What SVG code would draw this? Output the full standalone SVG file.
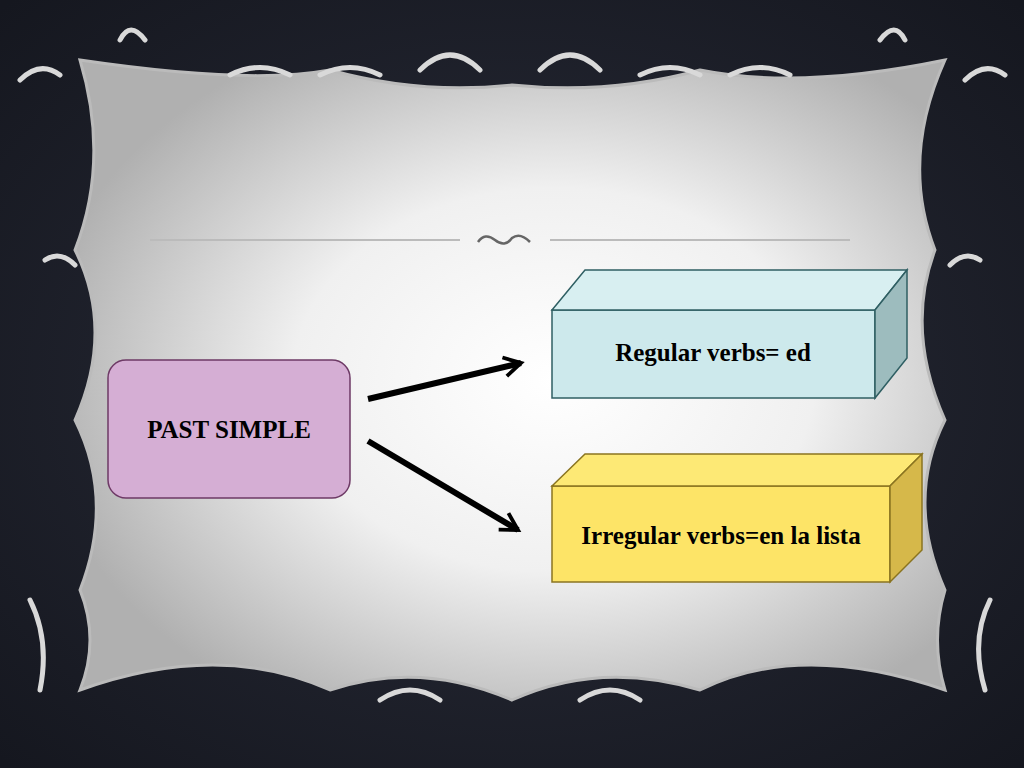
<svg xmlns="http://www.w3.org/2000/svg" width="1024" height="768" viewBox="0 0 1024 768">
<defs>
<radialGradient id="bg" cx="50%" cy="50%" r="70%"><stop offset="0" stop-color="#2a2d3a"/><stop offset="1" stop-color="#15171f"/></radialGradient>
<radialGradient id="fr" cx="55%" cy="50%" r="60%"><stop offset="0" stop-color="#ffffff"/><stop offset="0.5" stop-color="#f0f0f0"/><stop offset="1" stop-color="#b0b0b0"/></radialGradient>
<marker id="ah" viewBox="0 0 10 10" refX="8" refY="5" markerWidth="4" markerHeight="4" orient="auto" markerUnits="strokeWidth"><path d="M1,1 L8,5 L1,9" fill="none" stroke="#000" stroke-width="1.6"/></marker>
<style>
.t{font-family:"Liberation Serif",serif;font-weight:bold;font-size:25px;fill:#000;text-anchor:middle}
.c{stroke:#000;stroke-width:6;fill:none;marker-end:url(#ah)}
.orn{fill:none;stroke:#d9d9d9;stroke-width:5;stroke-linecap:round}
</style>
</defs>
<rect width="1024" height="768" fill="url(#bg)"/>
<g id="frame">
<path d="M80,60 Q250,85 330,70 Q420,95 512,85 Q610,95 700,70 Q800,90 945,60 Q900,160 935,250 Q905,330 945,420 Q905,500 945,590 Q930,640 945,690 Q800,640 700,690 Q600,660 512,700 Q420,660 330,690 Q220,640 80,690 Q100,640 80,590 Q115,500 75,420 Q115,330 75,250 Q110,160 80,60 Z" fill="url(#fr)" stroke="#bbb" stroke-width="3"/>
<path class="orn" d="M20,80 Q40,60 60,75 M120,40 Q130,20 145,40 M230,75 Q260,60 290,75 M320,75 Q350,60 380,75 M420,70 Q450,40 480,70 M540,70 Q570,40 600,70 M640,75 Q670,60 700,75 M730,75 Q760,60 790,75 M880,40 Q895,20 905,40 M965,80 Q985,60 1005,75 M30,600 Q50,640 40,690 M990,600 Q970,640 985,690 M380,700 Q410,680 440,700 M580,700 Q610,680 640,700 M45,260 Q60,250 75,265 M950,265 Q965,250 980,260"/>
<g stroke="#bbb" stroke-width="2"><line x1="150" y1="240" x2="460" y2="240"/><line x1="550" y1="240" x2="850" y2="240"/></g>
<path d="M478,242 Q485,232 495,240 Q505,248 512,238 Q520,232 530,242" fill="none" stroke="#666" stroke-width="2.5"/>
</g>
<g id="connectors">
<line class="c" x1="368" y1="399" x2="521" y2="363"/>
<line class="c" x1="368" y1="441" x2="518" y2="530"/>
</g>
<g id="past">
<rect x="108" y="360" width="242" height="138" rx="18" fill="#d5aed4" stroke="#6e3a66" stroke-width="1.5"/>
<text class="t" x="229" y="438">PAST SIMPLE</text>
</g>
<g id="regular" stroke="#2f5f63" stroke-width="1.5">
<rect x="552" y="310" width="323" height="88" fill="#cde9ec"/>
<path d="M552,310 L585,270 L907,270 L875,310 Z" fill="#d8eff1"/>
<path d="M875,310 L907,270 L907,358 L875,398 Z" fill="#9dbcbe"/>
<text class="t" x="713" y="361" stroke="none">Regular verbs= ed</text>
</g>
<g id="irregular" stroke="#8a7420" stroke-width="1.5">
<rect x="552" y="486" width="338" height="96" fill="#fde467"/>
<path d="M552,486 L585,454 L922,454 L890,486 Z" fill="#fde975"/>
<path d="M890,486 L922,454 L922,550 L890,582 Z" fill="#d6b84a"/>
<text class="t" x="721" y="544" stroke="none">Irregular verbs=en la lista</text>
</g>
</svg>
